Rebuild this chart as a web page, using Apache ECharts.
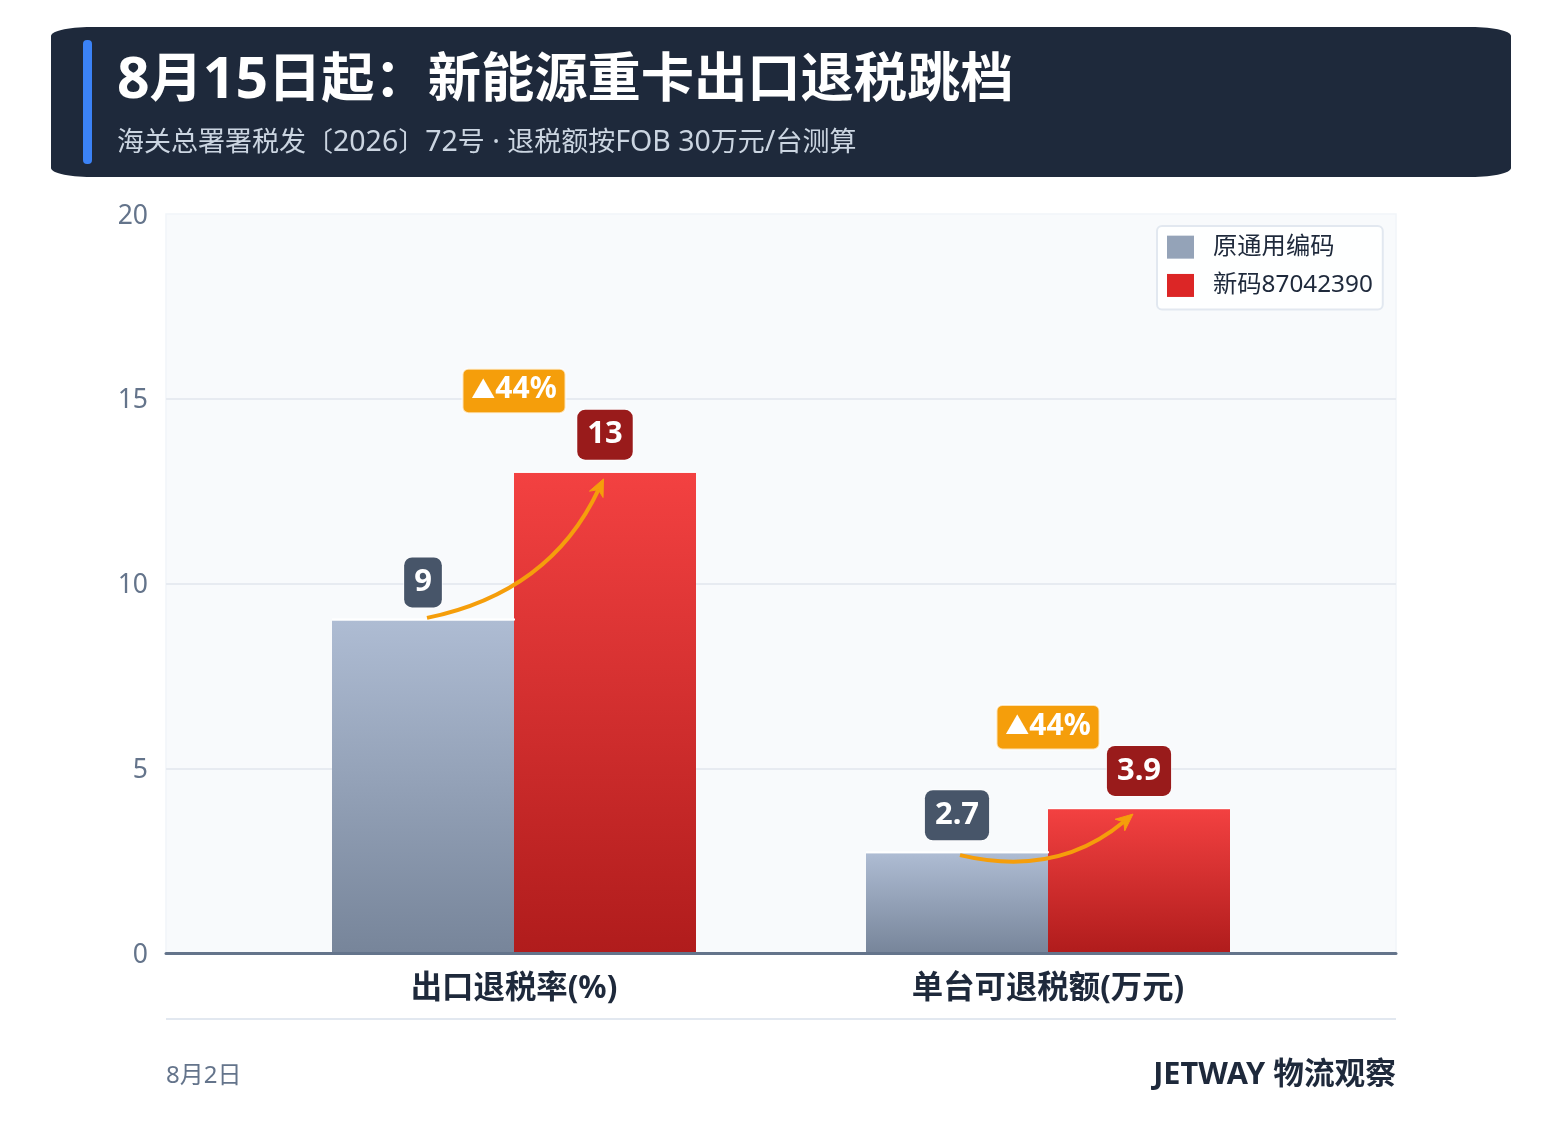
<!DOCTYPE html>
<html><head><meta charset="utf-8">
<style>html,body{margin:0;padding:0;background:#fff}#c{width:1561px;height:1145px}</style>
<script src="https://cdn.jsdelivr.net/npm/echarts@6/dist/echarts.min.js"></script>
</head><body><div id="c"></div>
<script>
const titleText = '8月15日起：新能源重卡出口退税跳档';
const subtitleText = '海关总署署税发〔2026〕72号 · 退税额按FOB 30万元/台测算';
const categories = ['出口退税率(%)', '单台可退税额(万元)'];
const seriesNames = ['原通用编码', '新码87042390'];
const oldValues = [9, 2.7];
const newValues = [13, 3.9];
const changeLabels = ['▲44%', '▲44%'];
const arrowFrom = [9.07, 2.65];
const arrowTo = [12.83, 3.76];
const yTicks = [0, 5, 10, 15, 20];
const footLeft = '8月2日';
const footRight = 'JETWAY 物流观察';

const FONT = '"Noto Sans","Noto Sans CJK SC",sans-serif';
const BAR_W = 182;

const chart = echarts.init(document.getElementById('c'), null, {renderer: 'canvas'});

function grad(a, b) {
  return new echarts.graphic.LinearGradient(0, 0, 0, 1, [{offset: 0, color: a}, {offset: 1, color: b}]);
}
function barLabel(bg) {
  return {
    show: true, position: 'top', distance: 13, color: '#fff', fontFamily: FONT, fontWeight: 'bold',
    fontSize: 31, lineHeight: 34, padding: [8, 10], backgroundColor: bg, borderRadius: 8,
    borderColor: 'rgba(255,255,255,0.6)', borderWidth: 1
  };
}
// rounded header band with stretched (elliptical) corners
function bandPoints(x, y, w, h, rx, ry) {
  const pts = [];
  const corners = [[x + w - rx, y + ry, -90], [x + w - rx, y + h - ry, 0], [x + rx, y + h - ry, 90], [x + rx, y + ry, 180]];
  corners.forEach(c => {
    for (let a = 0; a <= 90; a += 6) {
      const t = (c[2] + a) * Math.PI / 180;
      pts.push([c[0] + rx * Math.cos(t), c[1] + ry * Math.sin(t)]);
    }
  });
  return pts;
}
// latin runs are set a little larger than the CJK runs
function mixedText(text) {
  return text.replace(/[\x00-\x7f·]+|[^\x00-\x7f·]+/g, run => (/^[\x00-\x7f·]/.test(run) ? '{l|' : '{c|') + run + '}');
}
function renderArrow(params, api) {
  const cat = api.value(0);
  const i = params.dataIndex;
  const p0 = api.coord([cat, api.value(1)]);
  const p1 = api.coord([cat, api.value(2)]);
  const top = api.coord([cat, api.value(3)]);
  const oldTop = api.coord([cat, api.value(4)]);
  const a = [p0[0] - BAR_W / 2 + 4 - (i ? 1 : 0), p0[1]];
  const b = [p1[0] + BAR_W / 2 - (i ? 6 : 1.5), p1[1]];
  const mx = (a[0] + b[0]) / 2, my = (a[1] + b[1]) / 2;
  const dx = b[0] - a[0], dy = b[1] - a[1];
  const c = [mx - dy * 0.25, my + dx * 0.25];
  const ang = Math.atan2(b[1] - c[1], b[0] - c[0]);
  const L = 17, W = 7.5, N = 12;
  const ux = Math.cos(ang), uy = Math.sin(ang);
  const head = [
    b,
    [b[0] - ux * L - uy * W, b[1] - uy * L + ux * W],
    [b[0] - ux * N, b[1] - uy * N],
    [b[0] - ux * L + uy * W, b[1] - uy * L - ux * W]
  ];
  const end = [b[0] - ux * N, b[1] - uy * N];
  const cx = top[0], pillBottom = top[1] - 59.5, pillW = 103, pillH = 44.5;
  const label = changeLabels[i];
  return {
    type: 'group', children: [
      {type: 'line', shape: {x1: cx - BAR_W, y1: oldTop[1] - 1, x2: cx + 1, y2: oldTop[1] - 1}, style: {stroke: '#fff', lineWidth: 2}},
      {type: 'line', shape: {x1: cx, y1: top[1] - 0.5, x2: cx + BAR_W, y2: top[1] - 0.5}, style: {stroke: 'rgba(255,255,255,0.8)', lineWidth: 1.5}},
      {type: 'bezierCurve', shape: {x1: a[0], y1: a[1], x2: end[0], y2: end[1], cpx1: c[0], cpy1: c[1]},
       style: {stroke: '#f59e0b', lineWidth: 4, fill: null}},
      {type: 'polygon', shape: {points: head}, style: {fill: '#f59e0b', stroke: '#f59e0b', lineWidth: 1, lineJoin: 'round'}},
      {type: 'rect', shape: {x: cx - pillW / 2, y: pillBottom - pillH, width: pillW, height: pillH, r: 6},
       style: {fill: '#f59e0b', stroke: 'rgba(255,255,255,0.7)', lineWidth: 2}},
      {type: 'text', x: cx, y: pillBottom - pillH / 2 - 1,
       style: {text: '{t|' + label[0] + '}{n|' + label.slice(1) + '}', fill: '#fff', fontFamily: FONT, fontWeight: 'bold', fontSize: 28, align: 'center', verticalAlign: 'middle',
         rich: {t: {fontSize: 24, fontFamily: FONT, fill: '#fff', color: '#fff', padding: [3, 0, 0, 0]}, n: {fontSize: 30, fontFamily: FONT, fontWeight: 'bold', fill: '#fff', color: '#fff'}}}}
    ]
  };
}

chart.setOption({
  animation: false,
  backgroundColor: '#ffffff',
  textStyle: {fontFamily: FONT},
  grid: [
    {left: 166, top: 214, width: 1230, height: 739, show: true, backgroundColor: '#f8fafc', borderWidth: 1.5, borderColor: '#f1f5f9', containLabel: false},
    {left: 247, top: 214, width: 1068, height: 739, containLabel: false}
  ],
  legend: {
    left: 1157, top: 226, orient: 'vertical', padding: [9, 10, 12, 10], itemWidth: 27, itemHeight: 23, itemGap: 14,
    backgroundColor: 'rgba(255,255,255,0.85)', borderColor: '#e2e8f0', borderWidth: 2, borderRadius: 5,
    textStyle: {fontFamily: FONT, fontSize: 24.3, color: '#1e293b', padding: [6, 0, 0, 14]},
    data: [
      {name: seriesNames[0], icon: 'rect', itemStyle: {color: '#94a3b8'}},
      {name: seriesNames[1], icon: 'rect', itemStyle: {color: '#dc2626'}}
    ]
  },
  xAxis: [
    {type: 'category', gridIndex: 0, data: categories, z: 8, axisLine: {show: true, onZero: false, lineStyle: {color: '#64748b', width: 3}},
     axisTick: {show: false}, axisLabel: {show: false}, splitLine: {show: false}},
    {type: 'category', gridIndex: 1, data: categories, axisLine: {show: false}, axisTick: {show: false},
     axisLabel: {fontFamily: FONT, fontSize: 31.4, fontWeight: 'bold', color: '#1e293b', margin: 20}}
  ],
  yAxis: [
    {type: 'value', gridIndex: 0, min: yTicks[0], max: yTicks[yTicks.length - 1], interval: yTicks[1] - yTicks[0],
     axisLine: {show: false}, axisTick: {show: false},
     axisLabel: {formatter: '{a|{value}}', margin: 18,
       rich: {a: {fontFamily: FONT, fontSize: 26.5, color: '#64748b', padding: [4, 0, 0, 0]}}},
     splitLine: {show: true, showMaxLine: false, lineStyle: {color: '#e7ebf1', width: 2}}},
    {type: 'value', gridIndex: 1, min: yTicks[0], max: yTicks[yTicks.length - 1], interval: yTicks[1] - yTicks[0], show: false}
  ],
  series: [
    {name: seriesNames[0], type: 'bar', xAxisIndex: 1, yAxisIndex: 1, data: oldValues, barWidth: BAR_W, barGap: 0, z: 3,
     itemStyle: {color: grad('#aebcd3', '#77859a')},
     label: barLabel('#475569')},
    {name: seriesNames[1], type: 'bar', xAxisIndex: 1, yAxisIndex: 1, data: newValues, barWidth: BAR_W, barGap: 0, z: 3,
     itemStyle: {color: grad('#f34141', '#b01c1c')},
     label: barLabel('#991b1b')},
    {type: 'custom', name: 'change', xAxisIndex: 1, yAxisIndex: 1, z: 5, clip: false, silent: true,
     renderItem: renderArrow, encode: {x: 0, y: 2},
     data: categories.map((c, i) => [i, arrowFrom[i], arrowTo[i], newValues[i], oldValues[i]])}
  ],
  graphic: [
    {type: 'polygon', z: 10, shape: {points: bandPoints(51, 27, 1460, 150, 40, 9)}, style: {fill: '#1e293b'}},
    {type: 'rect', z: 11, shape: {x: 83, y: 40, width: 9, height: 124, r: 4}, style: {fill: '#3b82f6'}},
    {type: 'text', z: 11, x: 117, y: 82, style: {text: mixedText(titleText), fill: '#fff', fontFamily: FONT, fontWeight: 'bold', verticalAlign: 'middle',
      rich: {c: {fontSize: 53.25, fontWeight: 'bold', fontFamily: FONT, fill: '#fff', color: '#fff'}, l: {fontSize: 57, fontWeight: 'bold', fontFamily: FONT, fill: '#fff', color: '#fff'}}}},
    {type: 'text', z: 11, x: 117, y: 143, style: {text: mixedText(subtitleText), fill: '#cbd5e1', fontFamily: FONT, verticalAlign: 'middle',
      rich: {c: {fontSize: 27, fontFamily: FONT, fill: '#cbd5e1', color: '#cbd5e1'}, l: {fontSize: 28.5, fontFamily: FONT, fill: '#cbd5e1', color: '#cbd5e1'}}}},
    {type: 'rect', z: 2, shape: {x: 166, y: 1018, width: 1230, height: 2}, style: {fill: '#e2e8f0'}},
    {type: 'text', z: 2, x: 166, y: 1076, style: {text: footLeft, fill: '#64748b', fontFamily: FONT, fontSize: 24, verticalAlign: 'middle'}},
    {type: 'text', z: 2, x: 1396, y: 1075, style: {text: footRight, fill: '#1e293b', fontFamily: FONT, fontWeight: 'bold', fontSize: 30.7, align: 'right', verticalAlign: 'middle'}}
  ]
});
</script></body></html>
